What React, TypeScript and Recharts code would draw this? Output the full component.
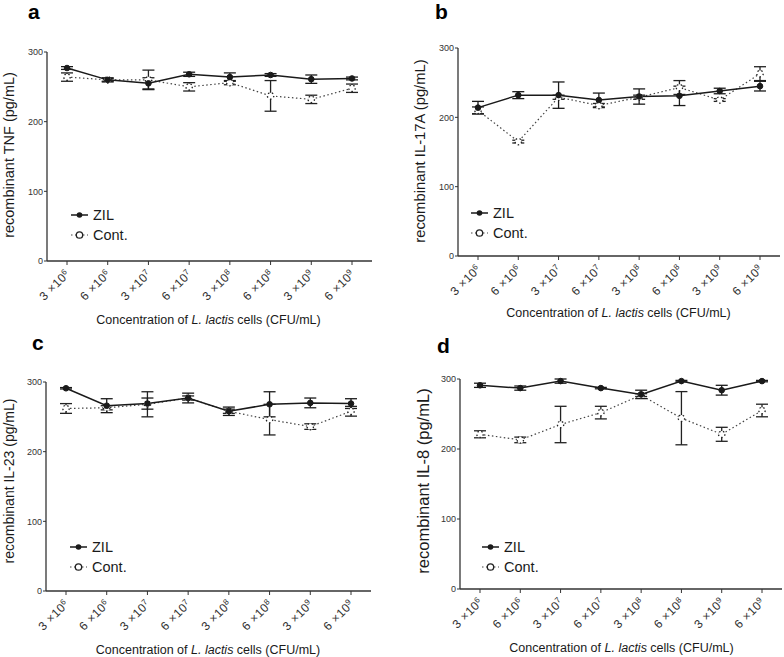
import React from "react";
import { LineChart, Line, XAxis, YAxis, ErrorBar } from "recharts";

const CATEGORIES = ["3×10^6", "6×10^6", "3×10^7", "6×10^7", "3×10^8", "6×10^8", "3×10^9", "6×10^9"];
const Y_TICKS = [0, 100, 200, 300];

// a: TNF
const TNF_ZIL = [277, 260, 255, 268, 264, 267, 261, 262];
const TNF_ZIL_ERR = [2, 3, 8, 3, 6, 2, 6, 2];
const TNF_CONT = [264, 260, 260, 250, 256, 237, 232, 248];
const TNF_CONT_ERR = [6, 2, 14, 6, 3, 22, 6, 6];

// b: IL-17A
const IL17A_ZIL = [214, 232, 232, 225, 230, 231, 238, 245];
const IL17A_ZIL_ERR = [9, 5, 19, 10, 11, 14, 4, 7];
const IL17A_CONT = [210, 165, 229, 217, 229, 243, 225, 263];
const IL17A_CONT_ERR = [5, 2, 3, 3, 3, 10, 2, 10];

// c: IL-23
const IL23_ZIL = [291, 266, 269, 277, 258, 268, 270, 269];
const IL23_ZIL_ERR = [1, 10, 8, 7, 6, 18, 7, 7];
const IL23_CONT = [262, 263, 268, 277, 258, 246, 236, 258];
const IL23_CONT_ERR = [7, 3, 18, 3, 3, 22, 4, 7];

// d: IL-8
const IL8_ZIL = [291, 287, 297, 287, 278, 297, 284, 297];
const IL8_ZIL_ERR = [3, 3, 3, 1, 6, 1, 7, 1];
const IL8_CONT = [221, 213, 235, 252, 277, 244, 221, 255];
const IL8_CONT_ERR = [5, 4, 26, 9, 2, 38, 10, 9];

const FONT = '"Liberation Sans", Arial, Helvetica, sans-serif';
const INK = "#1a1a1a";
const AXIS = "#333";

function buildRows(zil: number[], zilErr: number[], cont: number[], contErr: number[]) {
  return CATEGORIES.map((c, i) => ({
    conc: c,
    zil: zil[i],
    zilErr: zilErr[i],
    cont: cont[i],
    contErr: contErr[i],
  }));
}

// rotated "3 ×10^6" label, superscript as a tspan
function ConcTick(props: any) {
  const { x, y, payload } = props;
  const [m, e] = String(payload.value).split("×10^");
  return (
    <g transform={`translate(${x + 3.6},${y + 7.9})`}>
      <text transform="rotate(-45)" textAnchor="end" fontSize={12} letterSpacing={0.4} fill={AXIS} fontFamily={FONT}>
        {m} ×10
        <tspan dy={-4} fontSize={8}>
          {e}
        </tspan>
      </text>
    </g>
  );
}

interface PanelProps {
  letter: string;
  yLabel: string;
  zil: number[];
  zilErr: number[];
  cont: number[];
  contErr: number[];
  left: number;
  top: number;
  height: number;
  yAxisWidth: number;
  marginTop: number;
  marginRight: number;
  plotBottom: number;
  letterPos: [number, number];
  yLabelPos: [number, number];
  yLabelSize: number;
  xTitlePos: [number, number];
  legendPos: [number, number];
}

function Panel(p: PanelProps) {
  const rows = buildRows(p.zil, p.zilErr, p.cont, p.contErr);
  const xAxisHeight = 40;
  const [lx, ly] = p.legendPos;
  return (
    <div style={{ position: "absolute", left: p.left, top: p.top, width: 392, height: p.height }}>
      <LineChart
        width={392}
        height={p.height}
        data={rows}
        margin={{ top: p.marginTop, right: p.marginRight, left: 0, bottom: p.height - p.plotBottom - xAxisHeight }}
      >
        <XAxis
          dataKey="conc"
          interval={0}
          height={xAxisHeight}
          padding={{ left: 20, right: 20 }}
          tickSize={4}
          tickMargin={2}
          axisLine={{ stroke: AXIS, strokeWidth: 1.3 }}
          tickLine={{ stroke: AXIS, strokeWidth: 1 }}
          tick={(tp: any) => <ConcTick {...tp} />}
        />
        <YAxis
          type="number"
          domain={[0, 300]}
          ticks={Y_TICKS}
          width={p.yAxisWidth}
          tickSize={3}
          tickMargin={1}
          axisLine={{ stroke: AXIS, strokeWidth: 1.3 }}
          tickLine={{ stroke: AXIS, strokeWidth: 1 }}
          tick={{ fontSize: 9, fill: AXIS, fontFamily: FONT }}
        />
        <Line
          type="linear"
          dataKey="cont"
          stroke="#444"
          strokeWidth={1.2}
          strokeDasharray="1.5 2.5"
          dot={{ r: 3.2, fill: "#fff", stroke: "#222", strokeWidth: 1.3 }}
          activeDot={false}
          isAnimationActive={false}
        >
          <ErrorBar dataKey="contErr" width={6} stroke="#222" strokeWidth={1.3} isAnimationActive={false} />
        </Line>
        <Line
          type="linear"
          dataKey="zil"
          stroke={INK}
          strokeWidth={1.5}
          dot={{ r: 2.8, fill: INK, stroke: INK, strokeWidth: 1 }}
          activeDot={false}
          isAnimationActive={false}
        >
          <ErrorBar dataKey="zilErr" width={6} stroke={INK} strokeWidth={1.3} isAnimationActive={false} />
        </Line>
      </LineChart>
      <svg
        width={392}
        height={p.height}
        style={{ position: "absolute", left: 0, top: 0, pointerEvents: "none" }}
        fontFamily={FONT}
      >
        <text x={p.letterPos[0]} y={p.letterPos[1]} fontSize={21} fontWeight="bold" fill="#000">
          {p.letter}
        </text>
        <text
          transform={`translate(${p.yLabelPos[0]},${p.yLabelPos[1]}) rotate(-90)`}
          textAnchor="middle"
          dominantBaseline="central"
          fontSize={p.yLabelSize}
          fill={INK}
        >
          {p.yLabel}
        </text>
        <text x={p.xTitlePos[0]} y={p.xTitlePos[1]} textAnchor="middle" dominantBaseline="central" fontSize={12.5} fill={INK}>
          Concentration of <tspan fontStyle="italic">L. lactis</tspan> cells (CFU/mL)
        </text>
        <line x1={lx} x2={lx + 17} y1={ly} y2={ly} stroke={INK} strokeWidth={1.5} />
        <circle cx={lx + 8.5} cy={ly} r={2.8} fill={INK} />
        <text x={lx + 22} y={ly} dominantBaseline="central" fontSize={14.5} fill={INK}>
          ZIL
        </text>
        <line x1={lx} x2={lx + 17} y1={ly + 20} y2={ly + 20} stroke="#444" strokeWidth={1.2} strokeDasharray="1.5 2.5" />
        <circle cx={lx + 8.5} cy={ly + 20} r={3.2} fill="#fff" stroke="#222" strokeWidth={1.3} />
        <text x={lx + 22} y={ly + 20} dominantBaseline="central" fontSize={14.5} fill={INK}>
          Cont.
        </text>
      </svg>
    </div>
  );
}

export default function App() {
  return (
    <div style={{ position: "absolute", left: 0, top: 0, width: 784, height: 657, background: "#fff", fontFamily: FONT }}>
      <Panel
        letter="a"
        yLabel="recombinant TNF (pg/mL)"
        zil={TNF_ZIL}
        zilErr={TNF_ZIL_ERR}
        cont={TNF_CONT}
        contErr={TNF_CONT_ERR}
        left={0}
        top={0}
        height={330}
        yAxisWidth={47}
        marginTop={52}
        marginRight={20}
        plotBottom={261}
        letterPos={[28, 19]}
        yLabelPos={[9, 155]}
        yLabelSize={14.5}
        xTitlePos={[208.5, 320]}
        legendPos={[71, 215]}
      />
      <Panel
        letter="b"
        yLabel="recombinant IL-17A (pg/mL)"
        zil={IL17A_ZIL}
        zilErr={IL17A_ZIL_ERR}
        cont={IL17A_CONT}
        contErr={IL17A_CONT_ERR}
        left={392}
        top={0}
        height={330}
        yAxisWidth={66}
        marginTop={48}
        marginRight={4}
        plotBottom={256}
        letterPos={[43, 19]}
        yLabelPos={[27.7, 151]}
        yLabelSize={14.8}
        xTitlePos={[226.5, 313]}
        legendPos={[79, 213]}
      />
      <Panel
        letter="c"
        yLabel="recombinant IL-23 (pg/mL)"
        zil={IL23_ZIL}
        zilErr={IL23_ZIL_ERR}
        cont={IL23_CONT}
        contErr={IL23_CONT_ERR}
        left={0}
        top={330}
        height={327}
        yAxisWidth={46}
        marginTop={52}
        marginRight={21}
        plotBottom={261}
        letterPos={[32, 20]}
        yLabelPos={[9, 151]}
        yLabelSize={14}
        xTitlePos={[208, 320]}
        legendPos={[70, 217]}
      />
      <Panel
        letter="d"
        yLabel="recombinant IL-8 (pg/mL)"
        zil={IL8_ZIL}
        zilErr={IL8_ZIL_ERR}
        cont={IL8_CONT}
        contErr={IL8_CONT_ERR}
        left={392}
        top={330}
        height={327}
        yAxisWidth={68}
        marginTop={49}
        marginRight={2}
        plotBottom={259}
        letterPos={[45, 23]}
        yLabelPos={[31, 151]}
        yLabelSize={16.5}
        xTitlePos={[229.5, 318]}
        legendPos={[90, 217]}
      />
    </div>
  );
}
